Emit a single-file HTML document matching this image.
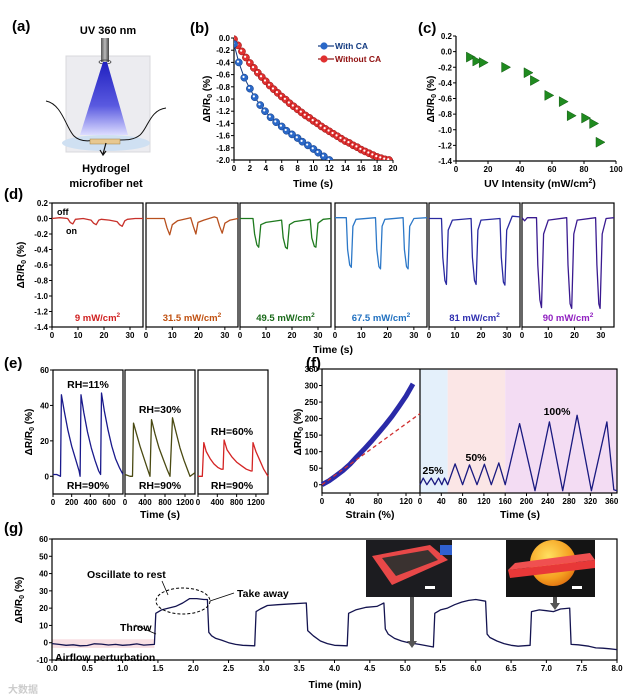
<!DOCTYPE html>
<html><head><meta charset="utf-8"><style>
body{margin:0;background:#fff}
svg{display:block;font-family:"Liberation Sans",Arial,sans-serif;font-weight:bold}
</style></head><body>
<svg id="fig" width="631" height="700" viewBox="0 0 631 700" xmlns="http://www.w3.org/2000/svg">
<defs>
<linearGradient id="cone" x1="0" y1="0" x2="0" y2="1"><stop offset="0" stop-color="#2020c0"/><stop offset="0.6" stop-color="#5a5ae0"/><stop offset="1" stop-color="#dcdcff"/></linearGradient>
<linearGradient id="lamp" x1="0" y1="0" x2="1" y2="0"><stop offset="0" stop-color="#555"/><stop offset="0.5" stop-color="#bbb"/><stop offset="1" stop-color="#444"/></linearGradient>
<radialGradient id="ball" cx="0.4" cy="0.35" r="0.7"><stop offset="0" stop-color="#ffe060"/><stop offset="0.7" stop-color="#f5a020"/><stop offset="1" stop-color="#e07010"/></radialGradient>
<clipPath id="clipB"><rect x="234" y="30" width="160" height="130"/></clipPath>
</defs>
<!-- panel a illustration -->
<g>
<rect x="66" y="56" width="84" height="96" fill="#ececf0" stroke="#d8d8dc"/>
<rect x="101" y="38" width="8" height="24" fill="url(#lamp)"/>
<ellipse cx="105" cy="62" rx="6" ry="2" fill="none" stroke="#333" stroke-width="0.7"/>
<polygon points="103,62 107,62 128,135 80,135" fill="url(#cone)"/>
<ellipse cx="106" cy="143" rx="44" ry="8" fill="#cfe0f2"/>
<path d="M46,101 C62,104 66,128 74,136 C80,142 90,141 95,140" fill="none" stroke="#111" stroke-width="1"/>
<path d="M166,108 C150,110 148,128 140,135 C134,140 126,140 120,140" fill="none" stroke="#111" stroke-width="1"/>
<rect x="90" y="139" width="30" height="5" fill="#e8c890" stroke="#a08040" stroke-width="0.5"/>
<path d="M106,143 L103,154 M100,150 L103,155 L106,151" fill="none" stroke="#111" stroke-width="1.2"/>
<text x="108" y="34" font-size="11" text-anchor="middle">UV 360 nm</text>
<text x="106" y="172" font-size="11" text-anchor="middle">Hydrogel</text>
<text x="106" y="187" font-size="11" text-anchor="middle">microfiber net</text>
</g>
</svg>
<script>
const NS='http://www.w3.org/2000/svg';
const svg=document.getElementById('fig');

// ---------- DATA ----------
const bTicksX=[0,2,4,6,8,10,12,14,16,18,20];
const bTicksY=[0,-0.2,-0.4,-0.6,-0.8,-1.0,-1.2,-1.4,-1.6,-1.8,-2.0];
const bTimeWith=[0,0.6,1.3,2.0,2.6,3.3,3.9,4.6,5.3,6.0,6.6,7.3,8.0,8.6,9.3,10.0,10.6,11.3,12.0];
const bWith=[-0.1,-0.4,-0.65,-0.83,-0.97,-1.1,-1.2,-1.3,-1.38,-1.45,-1.52,-1.58,-1.64,-1.7,-1.76,-1.82,-1.88,-1.94,-2.0];
const bTimeWithout=[0,0.5,1,1.5,2,2.5,3,3.5,4,4.5,5,5.5,6,6.5,7,7.5,8,8.5,9,9.5,10,10.5,11,11.5,12,12.5,13,13.5,14,14.5,15,15.5,16,16.5,17,17.5,18,18.5,19,19.5];
const bWithout=[-0.02,-0.12,-0.22,-0.32,-0.41,-0.49,-0.57,-0.64,-0.71,-0.78,-0.84,-0.9,-0.96,-1.01,-1.07,-1.12,-1.17,-1.22,-1.27,-1.31,-1.36,-1.4,-1.45,-1.49,-1.53,-1.57,-1.61,-1.65,-1.69,-1.72,-1.76,-1.79,-1.83,-1.86,-1.89,-1.92,-1.95,-1.97,-1.99,-2.0];

const cTicksX=[0,20,40,60,80,100];
const cTicksY=[0.2,0,-0.2,-0.4,-0.6,-0.8,-1.0,-1.2,-1.4];
const cIntensity=[9,13,17,31,45,49,58,67,72,81,86,90];
const cResponse=[-0.07,-0.12,-0.14,-0.2,-0.27,-0.37,-0.56,-0.64,-0.82,-0.85,-0.92,-1.16];

const dTicksX=[0,10,20,30];
const dTicksY=[0.2,0,-0.2,-0.4,-0.6,-0.8,-1.0,-1.2,-1.4];
const dLabels=['9','31.5','49.5','67.5','81','90'];
const dSeries=[
 [[0,0],[3,0.01],[6,0],[7,-0.05],[8,-0.07],[9,-0.01],[12,0],[15,-0.02],[16,-0.06],[17,-0.08],[18,-0.02],[19,-0.01],[22,-0.02],[25,-0.04],[26,-0.08],[27,-0.1],[28,-0.03],[29,-0.01],[32,0],[35,0]],
 [[0,0],[7,0],[8,-0.12],[9,-0.21],[10,-0.08],[12,-0.03],[17,0.01],[18,-0.1],[19,-0.2],[19.8,-0.05],[22,-0.02],[26,0.02],[27,0.01],[28,-0.1],[29,-0.19],[30,-0.06],[32,-0.02],[35,0]],
 [[0,0],[5,0],[5.6,-0.2],[6.5,-0.34],[7.2,-0.37],[8,-0.08],[10,-0.05],[16,-0.02],[16.6,-0.25],[17.5,-0.37],[18.2,-0.39],[19,-0.08],[21,-0.04],[27,-0.01],[27.6,-0.25],[28.6,-0.36],[29.2,-0.37],[30,-0.06],[32,-0.01],[35,0]],
 [[0,0.01],[4.3,0.01],[4.8,-0.4],[5.6,-0.6],[6.2,-0.63],[6.8,-0.1],[8,-0.01],[15.4,0.01],[15.9,-0.4],[16.7,-0.62],[17.3,-0.65],[17.9,-0.1],[19,-0.01],[25.9,0.01],[26.4,-0.4],[27.2,-0.62],[27.8,-0.65],[28.4,-0.1],[30,0],[35,0.01]],
 [[0,0],[4.8,0],[5.3,-0.5],[6.1,-0.8],[6.7,-0.85],[7.4,-0.15],[9,-0.02],[16.2,0],[16.7,-0.5],[17.5,-0.8],[18.1,-0.85],[18.8,-0.15],[20,-0.02],[27.3,0],[27.8,-0.5],[28.6,-0.82],[29.2,-0.86],[29.9,-0.15],[32,0.03],[35,0.02]],
 [[0,0.01],[1,-0.03],[2,0.01],[5.5,0.01],[6,-0.6],[6.8,-1.05],[7.4,-1.15],[8.2,-0.2],[10,-0.02],[17,0.01],[17.5,-0.6],[18.3,-1.1],[18.9,-1.16],[19.7,-0.2],[21,-0.02],[28,0.01],[28.5,-0.6],[29.2,-1.1],[29.7,-1.16],[30.5,-0.2],[32,0],[35,0.01]]
];

const eTicksY=[0,20,40,60];
const eTicksX=[[0,200,400,600],[0,400,800,1200],[0,400,800,1200]];
const eRanges=[750,1400,1450];
const eSeries=[
 [[0,1],[40,1],[80,0],[90,46],[120,37],[160,26],[200,17],[240,10],[280,3],[290,0],[300,46],[330,36],[370,25],[410,16],[450,9],[490,3],[510,1],[520,47],[550,37],[590,26],[630,17],[670,10],[710,5],[750,1]],
 [[0,1],[100,0],[150,0],[170,30],[230,24],[300,17],[370,11],[440,5],[500,0],[530,32],[600,24],[680,16],[760,10],[840,4],[900,0],[950,33],[1020,25],[1100,16],[1180,9],[1260,3],[1300,0],[1350,1],[1400,2]],
 [[0,0],[60,0],[90,0],[120,19],[170,14],[250,10],[330,7],[410,5],[480,4],[520,4],[540,20.5],[600,15],[700,11],[800,8],[900,6],[1000,4],[1100,3],[1120,3],[1140,19],[1200,14],[1280,9],[1360,4],[1450,0]]
];

const fTicksY=[0,50,100,150,200,250,300,350];
const fStrainTicks=[0,40,80,120];
const fTimeTicks=[0,40,80,120,160,200,240,280,320,360];
const fStrain=[0,10,20,30,40,50,60,70,80,90,100,110,120,130];
const fStrainResp=[0,12,27,43,62,85,107,130,155,180,207,237,268,305];
const fFitLine=[[0,0],[140,215]];
const fCycles=[[0,0],[6,20],[13,0],[21,20],[28,0],[35,20],[41,0],[46,20],[52,0],[66,63],[80,0],[93,60],[107,0],[121,62],[134,0],[148,66],[160,0],[187,185],[216,-18],[243,190],[268,-18],[295,210],[322,-18],[351,190],[364,-15],[370,-18]];
const fRegions=[[0,52,'#e4f0fb'],[52,160,'#fbe6e6'],[160,370,'#f3dcf3']];

const gTicksX=[0,0.5,1,1.5,2,2.5,3,3.5,4,4.5,5,5.5,6,6.5,7,7.5,8];
const gTicksY=[-10,0,10,20,30,40,50,60];
const gSeries=[[0,-0.5],[0.1,-1],[0.2,-1.5],[0.3,-1.2],[0.4,-1.8],[0.5,-1.6],[0.6,-0.6],[0.7,-0.8],[0.8,-1.3],[0.9,-1.0],[1.0,-1.5],[1.1,-1.2],[1.2,-0.7],[1.3,-1.4],[1.45,-1.0],
[1.47,17],[1.55,19],[1.65,20],[1.75,21],[1.85,23],[1.95,25.5],[2.05,25.5],[2.15,25],[2.2,25],
[2.22,6],[2.26,4],[2.32,2.5],[2.4,1.5],[2.5,0],[2.6,-1],[2.7,-1.5],[2.87,-1.8],
[2.89,18],[2.95,19.5],[3.05,21.5],[3.2,22],[3.4,22.5],[3.6,23],
[3.62,7],[3.7,4],[3.8,1],[3.9,-0.5],[4.0,-1.5],[4.18,-1.8],
[4.2,17],[4.3,19],[4.45,20.5],[4.6,21],[4.7,23],
[4.72,8],[4.76,5],[4.85,2.5],[4.95,1],[5.05,0],[5.2,-1],[5.4,-2.5],
[5.42,17],[5.5,19],[5.6,20],[5.7,22],[5.8,23.5],[5.9,24.5],[6.0,25],[6.14,24],
[6.16,5],[6.2,3],[6.3,1],[6.4,-0.5],[6.5,-1.5],[6.6,-2],[6.77,-1.5],
[6.79,18],[6.9,19],[7.0,18.5],[7.1,18],[7.2,19.5],[7.33,20],
[7.35,-1],[7.45,-1.2],[7.6,-2],[7.7,-3],[7.8,-3.2],[7.9,-3.5],[8.0,-4]];

// ---------- HELPERS ----------
function mk(tag,parent){const e=document.createElementNS(NS,tag);(parent||svg).appendChild(e);return e;}
function lin(d0,d1,r0,r1){return v=>r0+(v-d0)*(r1-r0)/(d1-d0);}
function fmt(v,dec){return v.toFixed(dec);}
function label(x,y,s,size,anchor,fill,name){
 const t=mk('text');
 
 
 t.setAttribute('x',x);t.setAttribute('y',y);t.setAttribute('font-size',size);
 t.setAttribute('text-anchor',anchor||'start');t.setAttribute('fill',fill||'#000');
 t.textContent=s;return t;
}
function line(x1,y1,x2,y2,stroke,w,name){
 const l=mk('line');
 
 
 l.setAttribute('x1',x1);l.setAttribute('y1',y1);l.setAttribute('x2',x2);l.setAttribute('y2',y2);
 l.setAttribute('stroke',stroke||'#000');l.setAttribute('stroke-width',w||1);return l;
}
function frame(x0,y0,x1,y1,name){
 const r=mk('rect');
 
 
 r.setAttribute('x',x0);r.setAttribute('y',y0);r.setAttribute('width',x1-x0);r.setAttribute('height',y1-y0);
 r.setAttribute('fill','none');r.setAttribute('stroke','#000');r.setAttribute('stroke-width',1.2);
}
function xTicks(sx,vals,yAx,dec,size,name){
 vals.forEach(v=>{line(sx(v),yAx,sx(v),yAx+3,'#000',1,name+'-tick');
  label(sx(v),yAx+11,fmt(v,dec),size,'middle','#000',name+'-label');});
}
function yTicks(sy,vals,xAx,dec,size,name){
 vals.forEach(v=>{line(xAx-3,sy(v),xAx,sy(v),'#000',1,name+'-tick');
  label(xAx-4,sy(v)+3,fmt(v,dec),size,'end','#000',name+'-label');});
}
function yTitle(x,y,size,name){
 const t=mk('text');
 
 
 t.setAttribute('transform',`translate(${x},${y}) rotate(-90)`);
 t.setAttribute('font-size',size);t.setAttribute('text-anchor','middle');
 t.innerHTML='ΔR/R<tspan font-size="'+(size*0.7)+'" dy="2">0</tspan><tspan dy="-2"> (%)</tspan>';
}
function polyline(pts,stroke,w,name,dash){
 const p=mk('polyline');
 
 
 p.setAttribute('points',pts.map(q=>q[0].toFixed(1)+','+q[1].toFixed(1)).join(' '));
 p.setAttribute('fill','none');p.setAttribute('stroke',stroke);p.setAttribute('stroke-width',w);
 p.setAttribute('stroke-linejoin','round');
 if(dash)p.setAttribute('stroke-dasharray',dash);
 return p;
}
function panelLabel(x,y,s,name){label(x,y,s,15,'start','#000',name);}

// ---------- PANEL LABELS ----------
panelLabel(12,31,'(a)','panel-label-a');
panelLabel(190,33,'(b)','panel-label-b');
panelLabel(418,33,'(c)','panel-label-c');
panelLabel(4,199,'(d)','panel-label-d');
panelLabel(4,368,'(e)','panel-label-e');
panelLabel(306,368,'(f)','panel-label-f');
panelLabel(4,533,'(g)','panel-label-g');

// ---------- PANEL B ----------
{
 const sx=lin(0,20,234,393), sy=lin(0,-2,38,160);
 line(234,38,234,160,'#000',1.2,'b-y-axis');line(234,160,393,160,'#000',1.2,'b-x-axis');
 xTicks(sx,bTicksX,160,0,8,'b-x');yTicks(sy,bTicksY,234,1,8,'b-y');
 yTitle(210,99,10,'b-y-axis-title');
 label(313,187,'Time (s)',10.5,'middle','#000','b-x-axis-title');
 const g=mk('g');g.setAttribute('clip-path','url(#clipB)');
 
 
 function series(ts,vs,fill,stroke,name){
  const pl=polyline(ts.map((t,i)=>[sx(t),sy(vs[i])]),stroke,1,name+'-line');g.appendChild(pl);
  ts.forEach((t,i)=>{const c=mk('circle',g);
   
   
   c.setAttribute('cx',sx(t));c.setAttribute('cy',sy(vs[i]));c.setAttribute('r',3.6);
   c.setAttribute('fill',fill);c.setAttribute('stroke',stroke);c.setAttribute('stroke-width',0.5);
   const h=mk('circle',g);
   
   
   h.setAttribute('cx',sx(t)-0.8);h.setAttribute('cy',sy(vs[i])-0.8);h.setAttribute('r',1.1);h.setAttribute('fill','#fff');});
 }
 series(bTimeWithout,bWithout,'#e03030','#901010','without-ca');
 series(bTimeWith,bWith,'#2a68c8','#123a80','with-ca');
 // legend
 [['With CA','#2a68c8','#123a80',46],['Without CA','#e03030','#901010',59]].forEach(l=>{
  line(318,l[3],334,l[3],l[2],1.2,'legend-line');
  const c=mk('circle');
  
  
  c.setAttribute('cx',324);c.setAttribute('cy',l[3]);c.setAttribute('r',3.6);c.setAttribute('fill',l[1]);
  label(335,l[3]+3,l[0],8.5,'start',l[2],'legend-entry');
 });
}

// ---------- PANEL C ----------
{
 const sx=lin(0,100,456,616), sy=lin(0.2,-1.4,36,161);
 line(456,36,456,161,'#000',1.2,'c-y-axis');line(456,161,616,161,'#000',1.2,'c-x-axis');
 xTicks(sx,cTicksX,161,0,8,'c-x');yTicks(sy,cTicksY,456,1,8,'c-y');
 yTitle(434,99,10,'c-y-axis-title');
 const t=label(540,187,'UV Intensity (mW/cm',10.5,'middle','#000','c-x-axis-title');
 t.innerHTML='UV Intensity (mW/cm<tspan font-size="7" dy="-4">2</tspan><tspan dy="4">)</tspan>';
 cIntensity.forEach((v,i)=>{const x=sx(v),y=sy(cResponse[i]);const p=mk('path');
  
  
  p.setAttribute('d',`M${x-4},${y-5}L${x+5},${y}L${x-4},${y+5}Z`);p.setAttribute('fill','#1f8a1f');p.setAttribute('stroke','#145a14');p.setAttribute('stroke-width',0.5);});
}

// ---------- PANEL D ----------
{
 const frames=[[52,143],[146,238],[240,331],[335,427],[429,520],[522,614]];
 const lineCols=['#c8302a','#b8501e','#1e7a1e','#2c78c8','#2a2aa0','#3a1a90'];
 const txtCols=['#d02020','#c05010','#1a6a1a','#2070c0','#3030b0','#9020c0'];
 const sy=lin(0.2,-1.4,203,327);
 yTicks(sy,dTicksY,52,1,8,'d-y');
 yTitle(24,265,10,'d-y-axis-title');
 frames.forEach((f,k)=>{
  const sx=lin(0,35,f[0],f[1]);
  frame(f[0],203,f[1],327,'d-frame-'+dLabels[k]);
  xTicks(sx,dTicksX,327,0,8,'d-x');
  polyline(dSeries[k].map(p=>[sx(p[0]),sy(p[1])]),lineCols[k],1.3,'d-series-'+dLabels[k]);
  const t=label((f[0]+f[1])/2,321,'',9.5,'middle',txtCols[k],'d-intensity-label');
  t.innerHTML=dLabels[k]+' mW/cm<tspan font-size="6.5" dy="-4">2</tspan>';
 });
 label(57,215,'off',9,'start','#000','off-label');
 label(66,234,'on',9,'start','#000','on-label');
 label(333,353,'Time (s)',10.5,'middle','#000','d-x-axis-title');
}

// ---------- PANEL E ----------
{
 const frames=[[53,123],[125,195],[198,268]];
 const cols=['#1a1a8c','#4a4a12','#d42424'];
 const sy=lin(60,-10,370,494);
 yTicks(sy,eTicksY,53,0,8,'e-y');
 yTitle(32,432,10,'e-y-axis-title');
 frames.forEach((f,k)=>{
  const sx=lin(0,eRanges[k],f[0],f[1]);
  frame(f[0],370,f[1],494,'e-frame-'+k);
  xTicks(sx,eTicksX[k],494,0,8,'e-x');
  polyline(eSeries[k].map(p=>[sx(p[0]),sy(p[1])]),cols[k],1.3,'e-series-'+k);
 });
 label(88,388,'RH=11%',10.5,'middle','#000','rh-11-label');
 label(160,413,'RH=30%',10.5,'middle','#000','rh-30-label');
 label(232,435,'RH=60%',10.5,'middle','#000','rh-60-label');
 [88,160,232].forEach(x=>label(x,489,'RH=90%',10.5,'middle','#000','rh-90-label'));
 label(160,518,'Time (s)',10.5,'middle','#000','e-x-axis-title');
}

// ---------- PANEL F ----------
{
 const sy=lin(350,-25,369,493);
 const sxS=lin(0,140,322,420), sxT=lin(0,370,420,617);
 fRegions.forEach(r=>{const re=mk('rect');
  
  
  re.setAttribute('x',sxT(r[0]));re.setAttribute('width',sxT(r[1])-sxT(r[0]));re.setAttribute('y',369);re.setAttribute('height',124);re.setAttribute('fill',r[2]);});
 frame(322,369,617,493,'f-frame');
 line(420,369,420,493,'#000',1.2,'f-divider');
 yTicks(sy,fTicksY,322,0,8,'f-y');
 xTicks(sxS,fStrainTicks,493,0,8,'f-strain-x');
 xTicks(sxT,fTimeTicks,493,0,8,'f-time-x');
 yTitle(301,432,10,'f-y-axis-title');
 polyline(fStrain.map((s,i)=>[sxS(s),sy(fStrainResp[i])]),'#2a2aa8',5,'f-strain-curve');
 polyline(fFitLine.map(p=>[sxS(p[0]),sy(p[1])]),'#d03030',1.3,'f-linear-fit','4,3');
 polyline(fCycles.map(p=>[sxT(p[0]),sy(p[1])]),'#1a1a80',1.3,'f-cycle-series');
 label(433,474,'25%',10.5,'middle','#000','f-25-label');
 label(476,461,'50%',10.5,'middle','#000','f-50-label');
 label(557,415,'100%',10.5,'middle','#000','f-100-label');
 label(370,518,'Strain (%)',10.5,'middle','#000','f-strain-title');
 label(520,518,'Time (s)',10.5,'middle','#000','f-time-title');
}

// ---------- PANEL G ----------
{
 const sx=lin(0,8,52,617), sy=lin(60,-10,539,660);
 const pr=mk('rect');
 
 
 pr.setAttribute('x',sx(0));pr.setAttribute('width',sx(1.45)-sx(0));pr.setAttribute('y',sy(2));pr.setAttribute('height',sy(-3)-sy(2));pr.setAttribute('fill','#f8e0e4');
 frame(52,539,617,660,'g-frame');
 xTicks(sx,gTicksX,660,1,8,'g-x');yTicks(sy,gTicksY,52,0,8,'g-y');
 yTitle(22,600,10,'g-y-axis-title');
 label(335,688,'Time (min)',10.5,'middle','#000','g-x-axis-title');
 polyline(gSeries.map(p=>[sx(p[0]),sy(p[1])]),'#141450',1.3,'g-series');
 label(87,578,'Oscillate to rest',10.5,'start','#000','oscillate-label');
 label(237,597,'Take away',10.5,'start','#000','take-away-label');
 label(120,631,'Throw',10.5,'start','#000','throw-label');
 label(55,661,'Airflow perturbation',10.5,'start','#000','airflow-label');
 const el=mk('ellipse');
 
 
 el.setAttribute('cx',183);el.setAttribute('cy',601);el.setAttribute('rx',27);el.setAttribute('ry',13);el.setAttribute('fill','none');el.setAttribute('stroke','#000');el.setAttribute('stroke-dasharray','3,2');
 line(162,581,168,595,'#000',0.8,'oscillate-arrow');
 line(210,601,234,593,'#000',0.8,'take-away-arrow');
 line(135,625,156,634,'#000',0.8,'throw-arrow');
 // photo insets
 const p1=mk('g');
 
 
 p1.innerHTML='<rect x="366" y="540" width="86" height="57" fill="#1c1c20"/><polygon points="372,556 430,545 448,560 392,585" fill="#e84848"/><polygon points="382,558 428,550 438,560 396,576" fill="#3a3230"/><rect x="440" y="545" width="12" height="10" fill="#3060d0"/><rect x="425" y="586" width="10" height="3" fill="#fff"/>';
 const p2=mk('g');
 
 
 p2.innerHTML='<rect x="506" y="540" width="89" height="57" fill="#141414"/><circle cx="553" cy="563" r="23" fill="url(#ball)"/><polygon points="508,570 595,560 595,568 510,578" fill="#e83838"/><polygon points="515,563 590,553 595,560 508,570" fill="#f05050"/><rect x="572" y="586" width="10" height="3" fill="#fff"/>';
 [[412,597,648],[555,597,610]].forEach(a=>{
  const ar=mk('path');
  
  
  ar.setAttribute('d',`M${a[0]-2},${a[1]}L${a[0]+2},${a[1]}L${a[0]+2},${a[2]-7}L${a[0]+5},${a[2]-7}L${a[0]},${a[2]}L${a[0]-5},${a[2]-7}L${a[0]-2},${a[2]-7}Z`);
  ar.setAttribute('fill','#555');
 });
 label(8,693,'大数据',10,'start','#cccccc','watermark').setAttribute('font-family','"Liberation Sans","Noto Sans CJK SC",sans-serif');
}
</script>
</body></html>
